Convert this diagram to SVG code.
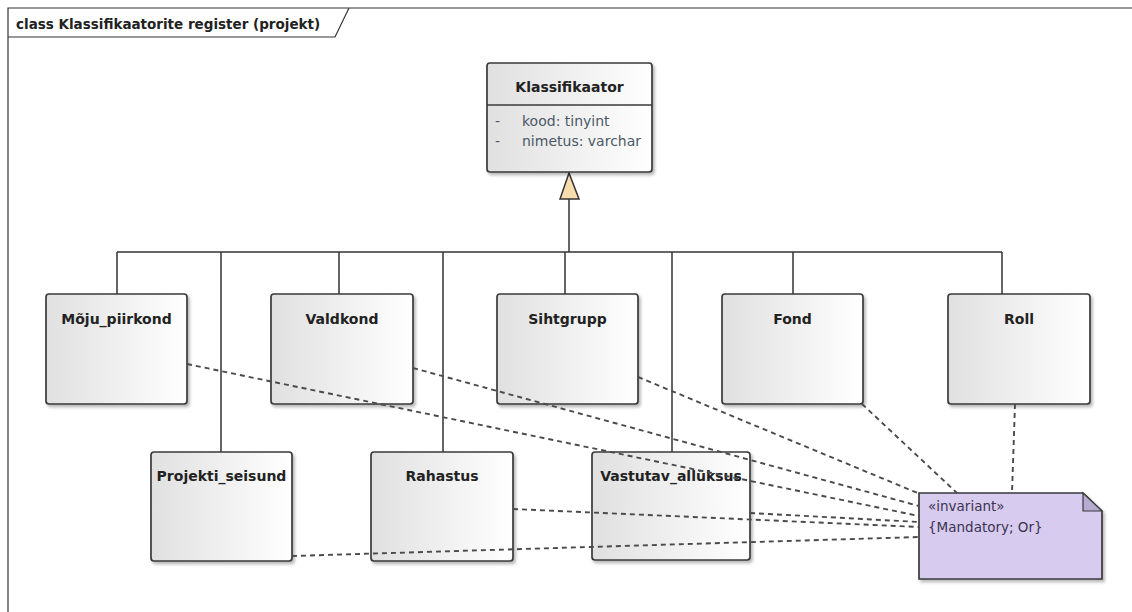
<svg xmlns="http://www.w3.org/2000/svg" width="1132" height="612" viewBox="0 0 1132 612">
  <defs>
    <linearGradient id="boxFill" x1="0" y1="0" x2="1" y2="0">
      <stop offset="0" stop-color="#e0e0e0"/>
      <stop offset="1" stop-color="#ffffff"/>
    </linearGradient>
    <filter id="shadow" x="-10%" y="-10%" width="125%" height="130%">
      <feDropShadow dx="2" dy="2.5" stdDeviation="1.6" flood-color="#000" flood-opacity="0.28"/>
    </filter>
    <style>
      .frame { fill: none; stroke: #333; stroke-width: 1.2; }
      .cls { fill: url(#boxFill); stroke: #3a3a3a; stroke-width: 1.7; filter: url(#shadow); }
      .sep { stroke: #3a3a3a; stroke-width: 1.3; }
      .name { font-family: "DejaVu Sans", Verdana, sans-serif; font-weight: bold; font-size: 14px; fill: #222; text-anchor: middle; }
      .title { font-family: "DejaVu Sans", Verdana, sans-serif; font-weight: bold; font-size: 13.5px; fill: #222; }
      .attr { font-family: "DejaVu Sans", Verdana, sans-serif; font-size: 14px; fill: #4c5866; }
      .gen { fill: none; stroke: #333; stroke-width: 1.5; }
      .tri { fill: #f7dcae; stroke: #333; stroke-width: 1.5; }
      .dep { fill: none; stroke: #4a4a4a; stroke-width: 1.9; stroke-dasharray: 5 4; }
      .note { fill: #d7cbef; stroke: #3a3a3a; stroke-width: 1.7; filter: url(#shadow); }
      .fold { fill: #b7abd2; stroke: #3a3a3a; stroke-width: 1.2; }
      .ntext { font-family: "DejaVu Sans", Verdana, sans-serif; font-size: 13.5px; fill: #3b3452; }
    </style>
  </defs>

  <rect width="1132" height="612" fill="#ffffff"/>

  <!-- diagram frame with name tab -->
  <g id="frame">
    <path class="frame" d="M8,612 V8 H1132"/>
    <path class="frame" d="M8,37 H335 L349,8"/>
    <text class="title" x="16" y="29">class Klassifikaatorite register (projekt)</text>
  </g>

  <!-- generalization tree -->
  <g id="generalization">
    <path class="gen" d="M569,199 V252"/>
    <path class="gen" d="M117,252 H1002"/>
    <path class="gen" d="M117,252 V294 M221,252 V452 M339,252 V294 M443,252 V452 M565,252 V294 M672,252 V452 M793,252 V294 M1002,252 V294"/>
    <polygon class="tri" points="569,173 560,199 579,199"/>
  </g>

  <!-- classes -->
  <g id="Klassifikaator">
    <rect class="cls" x="487" y="63" width="165" height="109" rx="3"/>
    <line class="sep" x1="487" y1="105" x2="652" y2="105"/>
    <text class="name" x="569.5" y="92">Klassifikaator</text>
    <text class="attr" x="495" y="126">-</text>
    <text class="attr" x="522" y="126">kood: tinyint</text>
    <text class="attr" x="495" y="146">-</text>
    <text class="attr" x="522" y="146">nimetus: varchar</text>
  </g>

  <g id="Moju_piirkond">
    <rect class="cls" x="46" y="294" width="141" height="110" rx="3"/>
    <text class="name" x="116.5" y="324">Mõju_piirkond</text>
  </g>
  <g id="Valdkond">
    <rect class="cls" x="271" y="294" width="142" height="110" rx="3"/>
    <text class="name" x="342" y="324">Valdkond</text>
  </g>
  <g id="Sihtgrupp">
    <rect class="cls" x="497" y="294" width="141" height="110" rx="3"/>
    <text class="name" x="567.5" y="324">Sihtgrupp</text>
  </g>
  <g id="Fond">
    <rect class="cls" x="722" y="294" width="141" height="110" rx="3"/>
    <text class="name" x="792.5" y="324">Fond</text>
  </g>
  <g id="Roll">
    <rect class="cls" x="948" y="294" width="142" height="110" rx="3"/>
    <text class="name" x="1019" y="324">Roll</text>
  </g>
  <g id="Projekti_seisund">
    <rect class="cls" x="151" y="452" width="141" height="109" rx="3"/>
    <text class="name" x="221.5" y="481">Projekti_seisund</text>
  </g>
  <g id="Rahastus">
    <rect class="cls" x="371" y="452" width="142" height="109" rx="3"/>
    <text class="name" x="442" y="481">Rahastus</text>
  </g>
  <g id="Vastutav_allyksus">
    <rect class="cls" x="592" y="452" width="158" height="108" rx="3"/>
    <text class="name" x="671" y="481">Vastutav_allüksus</text>
  </g>

  <!-- constraint note -->
  <g id="invariant_note">
    <path class="note" d="M919,493 H1083 L1102,511 V579 H919 Z"/>
    <path class="fold" d="M1083,493 V511 H1102 Z"/>
    <text class="ntext" x="928" y="511">«invariant»</text>
    <text class="ntext" x="928" y="532">{Mandatory; Or}</text>
  </g>

  <!-- note attachments -->
  <g id="connectors">
    <line class="dep" x1="187" y1="364" x2="919" y2="516"/>
    <line class="dep" x1="413" y1="368" x2="919" y2="506"/>
    <line class="dep" x1="638" y1="377" x2="920" y2="494"/>
    <line class="dep" x1="862" y1="404" x2="957" y2="493"/>
    <line class="dep" x1="1015" y1="404" x2="1012" y2="493"/>
    <line class="dep" x1="750" y1="513" x2="919" y2="522"/>
    <line class="dep" x1="513" y1="509" x2="919" y2="527"/>
    <line class="dep" x1="292" y1="556" x2="919" y2="537"/>
  </g>
</svg>
